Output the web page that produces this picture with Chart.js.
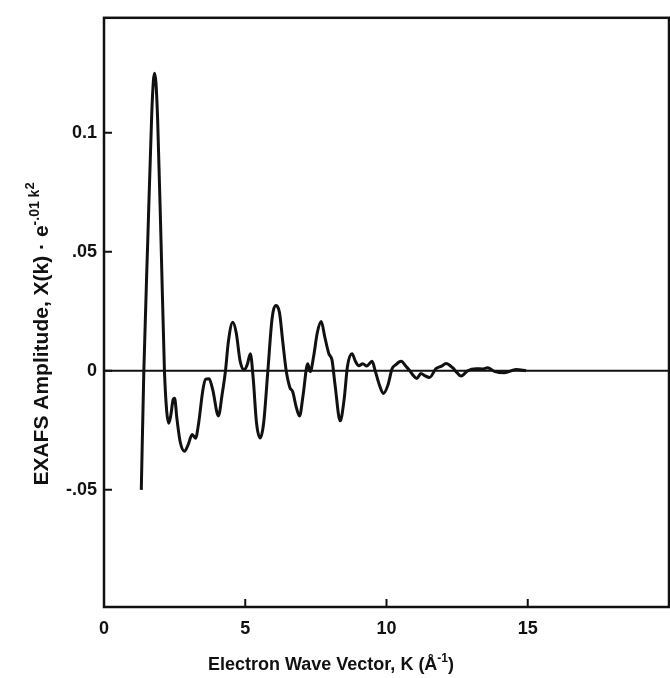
<!DOCTYPE html>
<html>
<head>
<meta charset="utf-8">
<script src="https://cdn.jsdelivr.net/npm/chart.js@4.4.1/dist/chart.umd.min.js"></script>
<style>
  html, body { margin: 0; padding: 0; background: #fff; }
  #wrap { width: 670px; height: 678px; }
</style>
</head>
<body>
<div id="wrap"><canvas id="myChart" width="670" height="678"></canvas></div>
<script>
// EXAFS curve (k in 1/A, amplitude)
const kValues = [
  1.32, 1.41, 1.55, 1.69, 1.75, 1.79, 1.84, 1.90, 2.02, 2.14,
  2.22, 2.29, 2.36, 2.45, 2.50, 2.58, 2.70, 2.85, 2.98, 3.12,
  3.24, 3.35, 3.50, 3.60, 3.72, 3.85, 4.05, 4.18, 4.30, 4.40,
  4.56, 4.68, 4.82, 4.97, 5.08, 5.18, 5.28, 5.40, 5.53, 5.65,
  5.80, 5.95, 6.07, 6.21, 6.33, 6.45, 6.58, 6.68, 6.80, 6.92,
  7.05, 7.21, 7.30, 7.42, 7.55, 7.69, 7.82, 7.96, 8.07, 8.18,
  8.36, 8.50, 8.62, 8.78, 8.90, 9.02, 9.16, 9.30, 9.49, 9.60,
  9.75, 9.89, 10.05, 10.20, 10.31, 10.52, 10.68, 10.81, 10.95, 11.07,
  11.22, 11.35, 11.52, 11.75, 11.95, 12.11, 12.34, 12.50, 12.64, 12.87,
  13.17, 13.40, 13.58, 13.82, 14.17, 14.59, 14.94
];
const chiValues = [
  -0.050, 0.000, 0.055, 0.108, 0.122, 0.125, 0.121, 0.105, 0.054, 0.000,
  -0.017, -0.022, -0.019, -0.012, -0.0115, -0.020, -0.030, -0.0338, -0.031, -0.0267,
  -0.0283, -0.022, -0.008, -0.0035, -0.0033, -0.008, -0.019, -0.010, 0.000, 0.012,
  0.0204, 0.016, 0.004, 0.0004, 0.003, 0.0072, -0.003, -0.022, -0.0282, -0.022,
  0.000, 0.022, 0.0274, 0.0246, 0.012, 0.000, -0.007, -0.0088, -0.015, -0.019,
  -0.010, 0.003, -0.0003, 0.006, 0.016, 0.0207, 0.014, 0.0072, 0.0046, -0.006,
  -0.021, -0.012, 0.002, 0.0072, 0.004, 0.0021, 0.003, 0.002, 0.004, 0.000,
  -0.006, -0.0095, -0.006, 0.001, 0.0024, 0.004, 0.002, 0.0003, -0.002, -0.0032,
  -0.0011, -0.002, -0.0028, 0.0009, 0.002, 0.0031, 0.0013, -0.0008, -0.0022, 0.000,
  0.0009, 0.0008, 0.0013, -0.0002, -0.0008, 0.0006, 0.000
];
const xTicks = [0, 5, 10, 15];
const yTicks = [-0.05, 0, 0.05, 0.1];
const yTickLabels = ['-.05', '0', '.05', '0.1'];

const FONT = '"Liberation Sans", Arial, sans-serif';
const INK = '#111';

// draws a row of text pieces (with raised superscripts), centred on cx
function drawPieces(ctx, pieces, cx, baseY) {
  let total = 0;
  pieces.forEach(p => {
    ctx.font = `bold ${p.size}px ${FONT}`;
    p.w = ctx.measureText(p.text).width;
    total += p.w;
  });
  let x = cx - total / 2;
  pieces.forEach(p => {
    ctx.font = `bold ${p.size}px ${FONT}`;
    ctx.fillText(p.text, x, baseY + p.dy);
    x += p.w;
  });
}

const framePlugin = {
  id: 'frame',
  beforeDatasetsDraw(chart) {
    const { ctx, chartArea: a, scales } = chart;
    const y0 = scales.y.getPixelForValue(0);
    ctx.save();
    ctx.strokeStyle = INK;
    ctx.lineWidth = 2;
    ctx.beginPath();
    ctx.moveTo(a.left, y0);
    ctx.lineTo(a.right, y0);
    ctx.stroke();
    ctx.restore();
  },
  afterDraw(chart) {
    const { ctx, chartArea: a, scales } = chart;
    ctx.save();
    ctx.strokeStyle = INK;
    ctx.lineWidth = 2.5;
    ctx.strokeRect(a.left, a.top, a.right - a.left, a.bottom - a.top);

    // inward tick marks
    ctx.lineWidth = 2;
    ctx.beginPath();
    xTicks.forEach(v => {
      const px = scales.x.getPixelForValue(v);
      ctx.moveTo(px, a.bottom);
      ctx.lineTo(px, a.bottom - 8);
    });
    yTicks.forEach(v => {
      const py = scales.y.getPixelForValue(v);
      ctx.moveTo(a.left, py);
      ctx.lineTo(a.left + 8, py);
    });
    ctx.stroke();

    // axis titles
    ctx.fillStyle = INK;
    ctx.textBaseline = 'alphabetic';
    ctx.textAlign = 'left';
    drawPieces(ctx, [
      { text: 'Electron Wave Vector, K (Å', size: 18, dy: 0 },
      { text: '-1', size: 12, dy: -8 },
      { text: ')', size: 18, dy: 0 }
    ], 331, 670);

    ctx.translate(48, 334);
    ctx.rotate(-Math.PI / 2);
    drawPieces(ctx, [
      { text: 'EXAFS Amplitude, X(k) · e', size: 21, dy: 0 },
      { text: '-.01 k', size: 14, dy: -9 },
      { text: '2', size: 13, dy: -14 }
    ], 0, 0);
    ctx.restore();
  }
};

const ctx = document.getElementById('myChart').getContext('2d');
const myChart = new Chart(ctx, {
  type: 'line',
  data: {
    datasets: [{
      data: kValues.map((k, i) => ({ x: k, y: chiValues[i] })),
      borderColor: INK,
      borderWidth: 3,
      pointRadius: 0,
      fill: false,
      cubicInterpolationMode: 'monotone'
    }]
  },
  options: {
    responsive: false,
    devicePixelRatio: 1,
    animation: false,
    layout: { padding: { top: 13, right: 1, left: 0, bottom: 0 } },
    plugins: { legend: { display: false }, tooltip: { enabled: false } },
    scales: {
      x: {
        type: 'linear',
        min: 0,
        max: 20,
        afterBuildTicks: s => { s.ticks = xTicks.map(v => ({ value: v })); },
        afterFit: s => { s.height = 71; },
        grid: { display: false, drawTicks: false },
        border: { display: false },
        ticks: {
          color: INK,
          padding: 11,
          font: { family: FONT, size: 18, weight: 'bold' },
          callback: v => String(v)
        }
      },
      y: {
        type: 'linear',
        min: -0.0992,
        max: 0.1483,
        afterBuildTicks: s => { s.ticks = yTicks.map(v => ({ value: v })); },
        afterFit: s => { s.width = 104; },
        grid: { display: false, drawTicks: false },
        border: { display: false },
        ticks: {
          color: INK,
          padding: 7,
          font: { family: FONT, size: 18, weight: 'bold' },
          callback: v => yTickLabels[yTicks.indexOf(v)]
        }
      }
    }
  },
  plugins: [framePlugin]
});
</script>
</body>
</html>
